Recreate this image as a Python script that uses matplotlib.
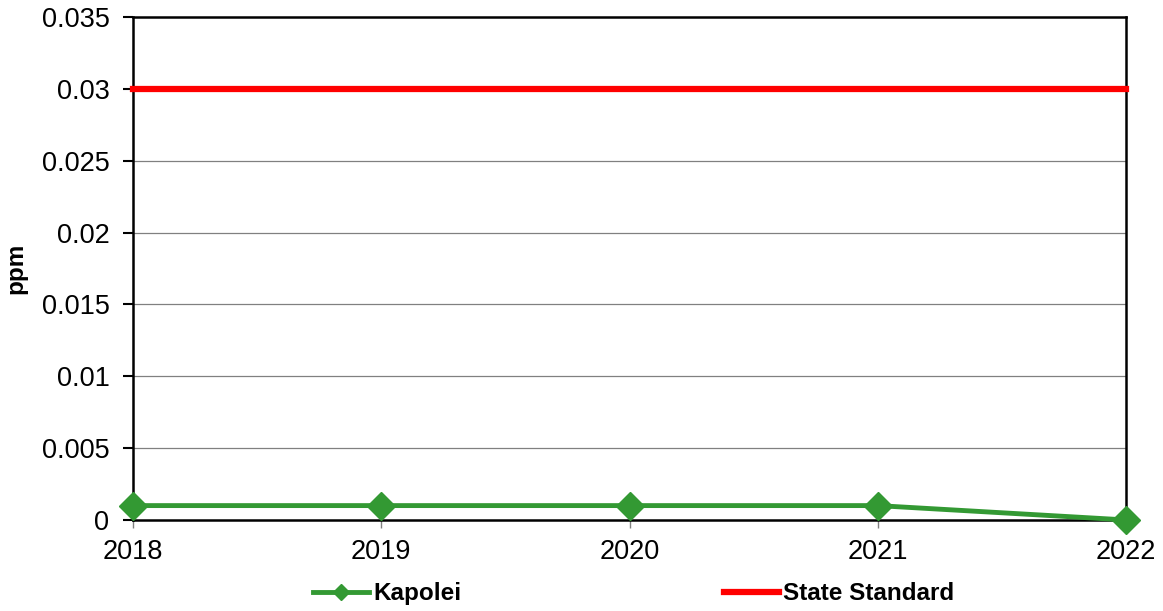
import numpy as np
import matplotlib
matplotlib.use('Agg')
import matplotlib.pyplot as plt

plt.rcParams['font.family'] = ['Liberation Sans', 'DejaVu Sans']

years = [2018, 2019, 2020, 2021, 2022]
kapolei = [0.001, 0.001, 0.001, 0.001, 0.0]
state_standard = [0.03, 0.03, 0.03, 0.03, 0.03]
yticks = [0, 0.005, 0.01, 0.015, 0.02, 0.025, 0.03, 0.035]
ytick_labels = ['0', '0.005', '0.01', '0.015', '0.02', '0.025', '0.03', '0.035']

fig = plt.figure(figsize=(11.63, 6.11), dpi=100)
ax = fig.add_axes([0.1144, 0.149, 0.8538, 0.823])

# horizontal grid
for y in yticks[1:-1]:
    ax.axhline(y, color='#808080', lw=0.9, zorder=1)

ax.plot(years, kapolei, color='#339933', lw=3.5, marker='D', markersize=14,
        label='Kapolei', clip_on=False, zorder=4)
ax.plot(years, state_standard, color='#ff0000', lw=4.5,
        label='State Standard', clip_on=False, zorder=3)

ax.set_xlim(2018, 2022)
ax.set_ylim(0, 0.035)
ax.set_xticks(years)
ax.set_xticklabels([str(y) for y in years])
ax.set_yticks(yticks)
ax.set_yticklabels(ytick_labels)
ax.tick_params(axis='y', direction='out', length=7, width=1.5, labelsize=19.5, pad=10)
ax.tick_params(axis='x', direction='out', length=6, width=1, color='#808080',
               labelsize=19.5, pad=8)
for s in ax.spines.values():
    s.set_linewidth(1.8)
ax.set_ylabel('ppm', fontsize=17.5, fontweight='bold', labelpad=10)

leg = fig.legend(loc='center', bbox_to_anchor=(0.545, 0.028), ncol=2, frameon=False,
                 prop={'weight': 'bold', 'size': 17.5}, handlelength=2.3,
                 columnspacing=10.8, handletextpad=0.15, markerscale=0.6)

fig.savefig('out.png', dpi=100)
